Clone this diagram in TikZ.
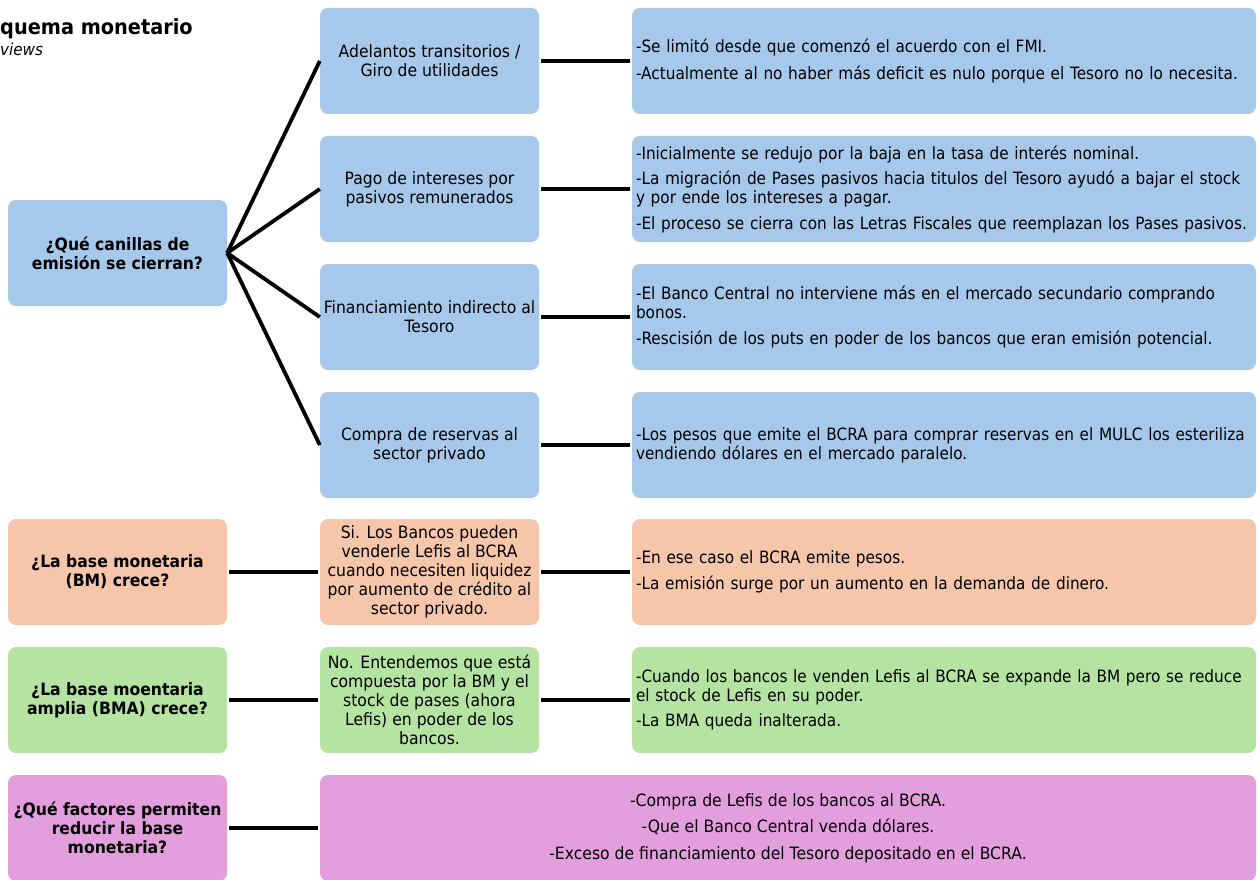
\documentclass[tikz,border=0pt]{standalone}
\usepackage{fontspec}
\setmainfont{DejaVu Sans}[FakeStretch=0.92]
\newfontfamily\rfont{DejaVu Sans}[FakeStretch=0.90]
\definecolor{cblue}{RGB}{166,200,235}
\definecolor{cpeach}{RGB}{246,198,170}
\definecolor{cgreen}{RGB}{180,227,162}
\definecolor{cpink}{RGB}{227,158,221}
\newcommand\oneline[1]{\mbox{#1}}
\tikzset{
  box/.style={rounded corners=8pt, inner sep=0pt, minimum height=106pt,
    font=\fontsize{17}{19}\selectfont, text=black},
  qbox/.style={box, minimum width=219pt, align=center,
    font=\fontsize{17}{19}\selectfont\bfseries},
  mbox/.style={box, minimum width=219pt, align=center},
  rbox/.style={box, minimum width=624pt, text width=616pt, inner xsep=4pt, align=left,
    font=\rfont\fontsize{17}{19}\selectfont},
  link/.style={line width=3.8pt, black},
  hlink/.style={link, shorten <=2pt, shorten >=2pt},
}
\begin{document}
\begin{tikzpicture}[x=1pt,y=-1pt]
\useasboundingbox (0,0) rectangle (1258,880);
% title
\node[anchor=base west, inner sep=0pt, font=\fontsize{21}{24}\selectfont\bfseries] (title) at (0,35) {quema monetario};
\node[anchor=base west, inner sep=0pt, font=\fontsize{16.5}{19}\selectfont\itshape] (sub) at (0,56) {views};
% column 1
\node[qbox, fill=cblue] (q1) at (117.5,253) {¿Qué canillas de\\emisión se cierran?};
\node[qbox, fill=cpeach] (q2) at (117.5,572) {¿La base monetaria\\(BM) crece?};
\node[qbox, fill=cgreen] (q3) at (117.5,700) {¿La base moentaria\\amplia (BMA) crece?};
\node[qbox, fill=cpink] (q4) at (117.5,828) {¿Qué factores permiten\\reducir la base\\monetaria?};
% column 2
\node[mbox, fill=cblue] (m1) at (429.5,61) {Adelantos transitorios /\\Giro de utilidades};
\node[mbox, fill=cblue] (m2) at (429.5,189) {Pago de intereses por\\pasivos remunerados};
\node[mbox, fill=cblue] (m3) at (429.5,317) {Financiamiento indirecto al\\Tesoro};
\node[mbox, fill=cblue] (m4) at (429.5,445) {Compra de reservas al\\sector privado};
\node[mbox, fill=cpeach] (m5) at (429.5,572) {Si. Los Bancos pueden\\venderle Lefis al BCRA\\cuando necesiten liquidez\\por aumento de crédito al\\sector privado.};
\node[mbox, fill=cgreen] (m6) at (429.5,700) {No. Entendemos que está\\compuesta por la BM y el\\stock de pases (ahora\\Lefis) en poder de los\\bancos.};
% column 3
\node[rbox, fill=cblue] (r1) at (944,61) {\oneline{-Se limitó desde que comenzó el acuerdo con el FMI.}\\[7.5pt]\oneline{-Actualmente al no haber más deficit es nulo porque el Tesoro no lo necesita.}};
\node[rbox, fill=cblue] (r2) at (944,189) {\oneline{-Inicialmente se redujo por la baja en la tasa de interés nominal.}\\[6.5pt]\oneline{-La migración de Pases pasivos hacia titulos del Tesoro ayudó a bajar el stock}\\\oneline{y por ende los intereses a pagar.}\\[6.5pt]\oneline{-El proceso se cierra con las Letras Fiscales que reemplazan los Pases pasivos.}};
\node[rbox, fill=cblue] (r3) at (944,317) {\oneline{-El Banco Central no interviene más en el mercado secundario comprando}\\\oneline{bonos.}\\[6.5pt]\oneline{-Rescisión de los puts en poder de los bancos que eran emisión potencial.}};
\node[rbox, fill=cblue] (r4) at (944,445) {\oneline{-Los pesos que emite el BCRA para comprar reservas en el MULC los esteriliza}\\\oneline{vendiendo dólares en el mercado paralelo.}};
\node[rbox, fill=cpeach] (r5) at (944,572) {\oneline{-En ese caso el BCRA emite pesos.}\\[7.5pt]\oneline{-La emisión surge por un aumento en la demanda de dinero.}};
\node[rbox, fill=cgreen] (r6) at (944,700) {\oneline{-Cuando los bancos le venden Lefis al BCRA se expande la BM pero se reduce}\\\oneline{el stock de Lefis en su poder.}\\[6.5pt]\oneline{-La BMA queda inalterada.}};
\node[box, fill=cpink, minimum width=936pt, align=center] (r7) at (788,828) {-Compra de Lefis de los bancos al BCRA.\\[7.5pt]-Que el Banco Central venda dólares.\\[7.5pt]-Exceso de financiamiento del Tesoro depositado en el BCRA.};
% connectors
\foreach \m in {m1,m2,m3,m4} \draw[link] (q1.east) -- (\m.west);
\foreach \a/\b in {m1/r1,m2/r2,m3/r3,m4/r4,m5/r5,m6/r6,q2/m5,q3/m6,q4/r7} \draw[hlink] (\a.east) -- (\b.west);
\end{tikzpicture}
\end{document}
